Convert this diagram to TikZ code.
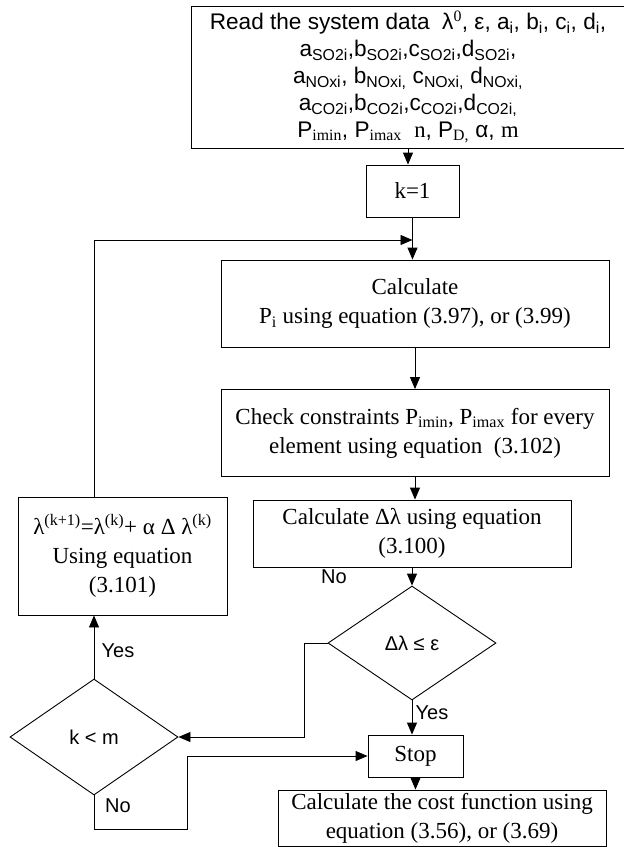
\documentclass[tikz,border=0pt]{standalone}
\usepackage{fontspec}
\setmainfont{Liberation Serif}
\newfontfamily\arial{Liberation Sans}
\usetikzlibrary{shapes.geometric,arrows.meta}

\begin{document}
\begin{tikzpicture}[x=1pt,y=-1pt,line width=0.9pt,
  box/.style n args={2}{draw,rectangle,align=center,inner sep=0pt,minimum width=#1,minimum height=#2,font={\fontsize{23}{29}\selectfont}},
  dec/.style n args={2}{draw,diamond,inner sep=0pt,minimum width=#1,minimum height=#2,font={\arial\fontsize{20}{24}\selectfont}},
  lbl/.style={font={\arial\fontsize{20}{24}\selectfont}},
  arr/.style={-{Triangle[length=12pt,width=10pt]}}]
\useasboundingbox (0,0) rectangle (624,847);
\node[box={434}{142},font={\arial\fontsize{22.6}{27}\selectfont}] (data) at (408,77) {%
   Read the system data\ \ λ\textsuperscript{\rmfamily 0}, ε, a\textsubscript{i}, b\textsubscript{i}, c\textsubscript{i}, d\textsubscript{i},\\
   a\textsubscript{SO2i},b\textsubscript{SO2i},c\textsubscript{SO2i},d\textsubscript{SO2i},\\
   a\textsubscript{NOxi}, b\textsubscript{NOxi,} c\textsubscript{NOxi,} d\textsubscript{NOxi,}\\
   a\textsubscript{CO2i},b\textsubscript{CO2i},c\textsubscript{CO2i},d\textsubscript{CO2i,}\\
   P\textsubscript{\rmfamily imin}, P\textsubscript{\rmfamily imax}\ \ {\rmfamily n}, P\textsubscript{\rmfamily D,} α, {\rmfamily m}};
\node[box={93}{52}] (init) at (412.5,191) {k=1};
\coordinate (join) at (412.5,240);
\node[box={388}{87}] (calc) at (415,303.5) {Calculate\\P\textsubscript{i} using equation (3.97), or (3.99)};
\node[box={388}{87}] (check) at (415,433) {Check constraints P\textsubscript{imin}, P\textsubscript{imax} for every\\element using equation\ \ (3.102)};
\node[box={318}{67}] (dlam) at (412,533.5) {Calculate Δλ using equation\\(3.100)};
\node[box={209}{118}] (lam) at (122.5,556) {λ\textsuperscript{(k+1)}=λ\textsuperscript{(k)}+ α Δ λ\textsuperscript{(k)}\\Using equation\\(3.101)};
\node[dec={168}{114}] (test) at (412,643) {Δλ ≤ ε};
\node[dec={168}{116}] (iter) at (94,737) {k < m};
\node[box={95}{42}] (stop) at (415.5,756) {Stop};
\node[box={328}{56}] (cost) at (442,818) {Calculate the cost function using\\equation (3.56), or (3.69)};
\coordinate (nobend) at (187,829);
% labels
\node[lbl] (no1) at (334,577) {No};
\node[lbl] (yes1) at (432,713) {Yes};
\node[lbl] (yes2) at (118,651) {Yes};
\node[lbl] (no2) at (118,806) {No};
% main flow
\foreach \a/\b in {data/init,init/calc,calc/check,check/dlam,dlam/test,test/stop,stop/cost} {
   \draw[arr] (\a) -- (\a |- \b.north);
}
% loops
\draw[arr] (lam.north -| iter) |- (join);
\draw[arr] (iter.north) -- (iter.north |- lam.south);
\draw[arr] (test.west) -- ++(-23,0) |- (iter.east);
\draw[arr] (iter.south) |- (nobend) |- (stop.west);
\end{tikzpicture}
\end{document}
